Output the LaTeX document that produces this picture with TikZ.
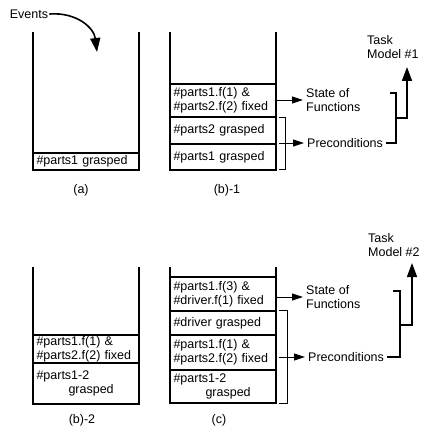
\documentclass[tikz,border=0pt]{standalone}
\usepackage{fontspec}
\setmainfont{Liberation Sans}
\usetikzlibrary{arrows.meta, positioning}
\tikzstyle{slot} = [rectangle, draw=black, line width=1.5pt, outer sep=0pt, text width=99pt, inner xsep=3.5pt, inner ysep=0pt, align=left]
\tikzstyle{wall} = [line width=1.5pt]
\tikzstyle{tag} = [inner sep=1pt]
\tikzstyle{note} = [anchor=west, align=left, inner sep=3pt]
\tikzstyle{arrow} = [line width=0.8pt, -{Triangle[length=11pt,width=7pt]}]
\tikzstyle{bigarrow} = [line width=1.6pt, -{Triangle[length=14pt,width=10pt]}]
\tikzstyle{bracket} = [line width=0.8pt]
\tikzstyle{merge} = [line width=1.6pt]

\begin{document}
\begin{tikzpicture}[x=1pt, y=-1pt, font=\fontsize{12.5}{14}\selectfont]
\useasboundingbox (0,0) rectangle (421,433);

% (a)
\node (ev) [tag] at (29,14) {Events};
\coordinate (evtip) at (97,52);
\node (a1) [slot, anchor=south west, minimum height=17pt] at (33,170) {\#parts1~grasped};
\draw [wall] (33,32) -- (33,170) -- (139,170) -- (139,32);
\node (capa) [tag] at (81,190) {(a)};

\draw [bigarrow] (ev.east) .. controls (77,12) and (94,28) .. (evtip);

% (b)-1
\node (b1c) [slot, anchor=south west, minimum height=26pt] at (170,170) {\#parts1~grasped};
\node (b1b) [slot, above=0pt of b1c, minimum height=27pt] {\#parts2~grasped};
\node (b1a) [slot, above=0pt of b1b, minimum height=33pt] {\#parts1.f(1)~\&\\\#parts2.f(2)~fixed};
\draw [wall] (170,32) -- (170,170) -- (276,170) -- (276,32);
\node (capb1) [tag] at (227,190) {(b)-1};

\node (sf1) [note] at (303,100) {State of\\Functions};
\node (pc1) [note] at (304,143) {Preconditions};
\node (tm1) [note] at (364,47) {Task\\Model \#1};
\coordinate (m1) at (396,118);
\coordinate (t1) at (407,67);

\draw [arrow] (b1a.east |- sf1.west) -- (sf1.west);
\draw [bracket] (279,117) -- (285,117) -- (285,169) -- (279,169);
\draw [arrow, shorten <=3pt] (b1b.east |- pc1.west) -- (pc1.west);
\draw [merge] (pc1.east) -| (396,93) -- (390,93);
\draw [bigarrow] (m1) -| (t1);

% (b)-2
\node (b2b) [slot, anchor=south west, minimum height=41pt] at (33,404) {\#parts1-2\\\hspace*{32pt}grasped};
\node (b2a) [slot, above=0pt of b2b, minimum height=28pt] {\#parts1.f(1)~\&\\\#parts2.f(2)~fixed};
\draw [wall] (33,267) -- (33,404) -- (139,404) -- (139,267);
\node (capb2) [tag] at (82,420) {(b)-2};

% (c)
\node (c4) [slot, anchor=south west, minimum height=33pt] at (170,403) {\#parts1-2\\\hspace*{32pt}grasped};
\node (c3) [slot, above=0pt of c4, minimum height=35pt] {\#parts1.f(1)~\&\\\#parts2.f(2)~fixed};
\node (c2) [slot, above=0pt of c3, minimum height=24pt] {\#driver~grasped};
\node (c1) [slot, above=0pt of c2, minimum height=34pt] {\#parts1.f(3)~\&\\\#driver.f(1)~fixed};
\draw [wall] (170,267) -- (170,403) -- (276,403) -- (276,267);
\node (capc) [tag] at (219,420) {(c)};

\node (sf2) [note] at (303,297) {State of\\Functions};
\node (pc2) [note] at (305,357) {Preconditions};
\node (tm2) [note] at (365,245) {Task\\Model \#2};
\coordinate (m2) at (400,325);
\coordinate (t2) at (412,263);

\draw [arrow] (c1.east |- sf2.west) -- (sf2.west);
\draw [bracket] (279,310) -- (287,310) -- (287,403) -- (279,403);
\draw [arrow, shorten <=3pt] (c3.east |- pc2.west) -- (pc2.west);
\draw [merge] (pc2.east) -| (400,291) -- (393,291);
\draw [bigarrow] (m2) -| (t2);

\end{tikzpicture}
\end{document}
